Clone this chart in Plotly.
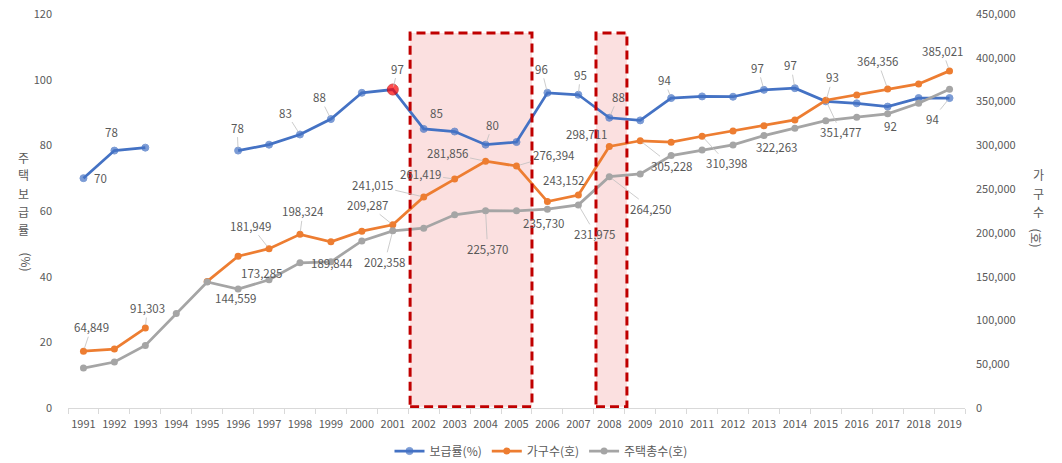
import plotly.graph_objects as go

years = [str(y) for y in range(1991, 2020)]

# 주택보급률 (%)
supply_rate = [70.0, 78.4, 79.3, None, None, 78.4, 80.2, 83.3, 88.0, 96.0,
               97.0, 85.0, 84.2, 80.2, 81.0, 96.0, 95.4, 88.4, 87.6, 94.4,
               94.9, 94.8, 96.9, 97.4, 93.4, 92.8, 91.8, 94.4, 94.4]

# 가구수 (호)
households = [64849, 67300, 91303, None, 144559, 173285, 181949, 198324, 189844, 202000,
              209287, 241015, 261419, 281856, 276394, 235730, 243152, 298711, 305228, 303600,
              310398, 316500, 322263, 329000, 351477, 357600, 364356, 370100, 385021]

# 주택총수 (호)
housing_total = [45600, 52500, 71500, 108000, 144000, 135800, 146400, 165800, 167000, 190800,
                 202358, 205400, 220600, 225370, 225200, 227100, 231975, 264250, 267400, 288300,
                 294800, 300500, 311100, 319500, 328200, 332100, 336000, 348100, 364100]

highlight_year = "2001"
shade_ranges = [(10.56, 14.5), (16.57, 17.57)]

BLUE = "#4472C4"
ORANGE = "#ED7D31"
GRAY = "#A5A5A5"
TXT = "#595959"
FONT = "Noto Sans CJK KR"

# label offsets (px) and whether a leader line is drawn
blue_lbl = {"1991": (17, 0, False), "1992": (-3, -19, False), "1996": (-1, -23, True),
            "1998": (-14, -22, True), "1999": (-11, -22, True), "2001": (5, -21, True),
            "2002": (13, -16, False), "2004": (7, -20, True), "2006": (-6, -24, True),
            "2007": (2, -20, True), "2008": (9, -21, True), "2010": (-7, -18, True),
            "2013": (-6, -22, True), "2014": (-4, -23, True), "2015": (7, -24, True),
            "2017": (3, 19, False), "2019": (-17, 21, True)}
orange_lbl = {"1991": (8, -24, True), "1993": (2, -20, True), "1995": (29, 17, False),
              "1996": (24, 17, False), "1997": (-18, -23, True), "1998": (3, -23, True),
              "1999": (1, 21, False), "2001": (-25, -20, True), "2002": (-51, -12, True),
              "2003": (-34, -5, True), "2004": (-38, -8, True), "2005": (37, -11, True),
              "2006": (-3, 21, False), "2007": (-14, -15, False), "2008": (-22, -12, False),
              "2009": (32, 25, True), "2011": (25, 27, True), "2013": (13, 21, False),
              "2015": (15, 32, True), "2017": (-10, -28, True), "2019": (-7, -20, True)}
gray_lbl = {"2001": (-8, 31, True), "2004": (2, 38, True), "2007": (17, 29, True),
            "2008": (42, 32, True)}

fig = go.Figure()

blue_colors = ["#FF0000" if y == highlight_year else BLUE for y in years]
blue_sizes = [11 if y == highlight_year else 7 for y in years]
blue_line_cols = ["#C00000" if y == highlight_year else BLUE for y in years]

fig.add_trace(go.Scatter(x=years, y=supply_rate, name="보급률(%)", mode="lines+markers",
                         line=dict(color=BLUE, width=2.75), connectgaps=False,
                         marker=dict(color=blue_colors, size=blue_sizes, symbol="circle",
                                     line=dict(color=blue_line_cols, width=1)),
                         yaxis="y"))
fig.add_trace(go.Scatter(x=years, y=households, name="가구수(호)", mode="lines+markers",
                         line=dict(color=ORANGE, width=2.75), connectgaps=False,
                         marker=dict(color=ORANGE, size=7), yaxis="y2"))
fig.add_trace(go.Scatter(x=years, y=housing_total, name="주택총수(호)", mode="lines+markers",
                         line=dict(color=GRAY, width=2.75), connectgaps=False,
                         marker=dict(color=GRAY, size=7), yaxis="y2"))

annotations = []


def add_labels(values, cfg, yref, fmt):
    for yr, (ax, ay, leader) in cfg.items():
        idx = years.index(yr)
        v = values[idx]
        annotations.append(dict(
            x=idx, y=v, xref="x", yref=yref, text=fmt(v), showarrow=True,
            ax=ax, ay=ay, arrowhead=0, arrowwidth=0.8, standoff=3,
            arrowcolor="#BFBFBF" if leader else "rgba(0,0,0,0)",
            font=dict(family=FONT, size=11.5, color=TXT)))


add_labels(supply_rate, blue_lbl, "y", lambda v: f"{v:.0f}")
add_labels(households, orange_lbl, "y2", lambda v: f"{v:,.0f}")
add_labels(housing_total, gray_lbl, "y2", lambda v: f"{v:,.0f}")

W, H = 1062, 463
L, T = 68, 14
R = W - 965
B = H - 408
pw, ph = W - L - R, H - T - B


def px(xp, yp):
    # page pixel -> paper coords
    return (xp - L) / pw, (H - B - yp) / ph


# axis titles (stacked characters)
for i, ch in enumerate("주택보급률"):
    xx, yy = px(16, 157 + 18 * i)
    annotations.append(dict(x=xx, y=yy, xref="paper", yref="paper", text=ch,
                            showarrow=False, font=dict(family=FONT, size=12, color=TXT)))
for i, ch in enumerate("가구수"):
    xx, yy = px(1046, 175 + 18 * i)
    annotations.append(dict(x=xx, y=yy, xref="paper", yref="paper", text=ch,
                            showarrow=False, font=dict(family=FONT, size=12, color=TXT)))
xx, yy = px(16, 262)
annotations.append(dict(x=xx, y=yy, xref="paper", yref="paper", text="(%)", textangle=90,
                        showarrow=False, font=dict(family=FONT, size=12, color=TXT)))
xx, yy = px(1046, 238)
annotations.append(dict(x=xx, y=yy, xref="paper", yref="paper", text="(호)", textangle=90,
                        showarrow=False, font=dict(family=FONT, size=12, color=TXT)))

shapes = []
for x0, x1 in shade_ranges:
    shapes.append(dict(type="rect", xref="x", yref="y", x0=x0, x1=x1, y0=0.4, y1=114.2,
                       fillcolor="#FBE0E0", line=dict(width=0), layer="below"))
    shapes.append(dict(type="rect", xref="x", yref="y", x0=x0, x1=x1, y0=0.4, y1=114.2,
                       fillcolor="rgba(0,0,0,0)",
                       line=dict(color="#C00000", width=3, dash="9px,5px"), layer="above"))

lx, ly = px(541, 451)

fig.update_layout(
    width=W, height=H,
    margin=dict(l=L, r=R, t=T, b=B, autoexpand=False),
    paper_bgcolor="white", plot_bgcolor="white",
    font=dict(family=FONT, size=11, color=TXT),
    showlegend=True,
    legend=dict(orientation="h", x=lx, xanchor="center", y=ly, yanchor="middle",
                font=dict(family=FONT, size=12, color=TXT), itemwidth=30,
                bgcolor="rgba(0,0,0,0)"),
    xaxis=dict(type="category", range=[-0.5, 28.5], showline=True, linecolor="#D9D9D9",
               linewidth=1, ticks="outside", tickson="boundaries", ticklen=5,
               tickcolor="#D9D9D9", showgrid=False, zeroline=False, tickangle=0,
               automargin=False, ticklabelstandoff=6,
               tickfont=dict(family=FONT, size=11, color=TXT)),
    yaxis=dict(range=[0, 120], dtick=20, showgrid=False, zeroline=False, showline=False,
               ticks="", ticklabelstandoff=15, automargin=False, ticklabeloverflow="allow",
               tickfont=dict(family=FONT, size=11, color=TXT)),
    yaxis2=dict(range=[0, 450000], dtick=50000, overlaying="y", side="right",
                showgrid=False, zeroline=False, showline=False, ticks="",
                tickformat=",", ticklabelstandoff=10, automargin=False,
                ticklabeloverflow="allow",
                tickfont=dict(family=FONT, size=11, color=TXT)),
    annotations=annotations,
    shapes=shapes,
)

fig.write_html("out.html", config={"displayModeBar": False},
               post_script="document.body.style.margin='0';document.body.style.overflow='hidden';")
